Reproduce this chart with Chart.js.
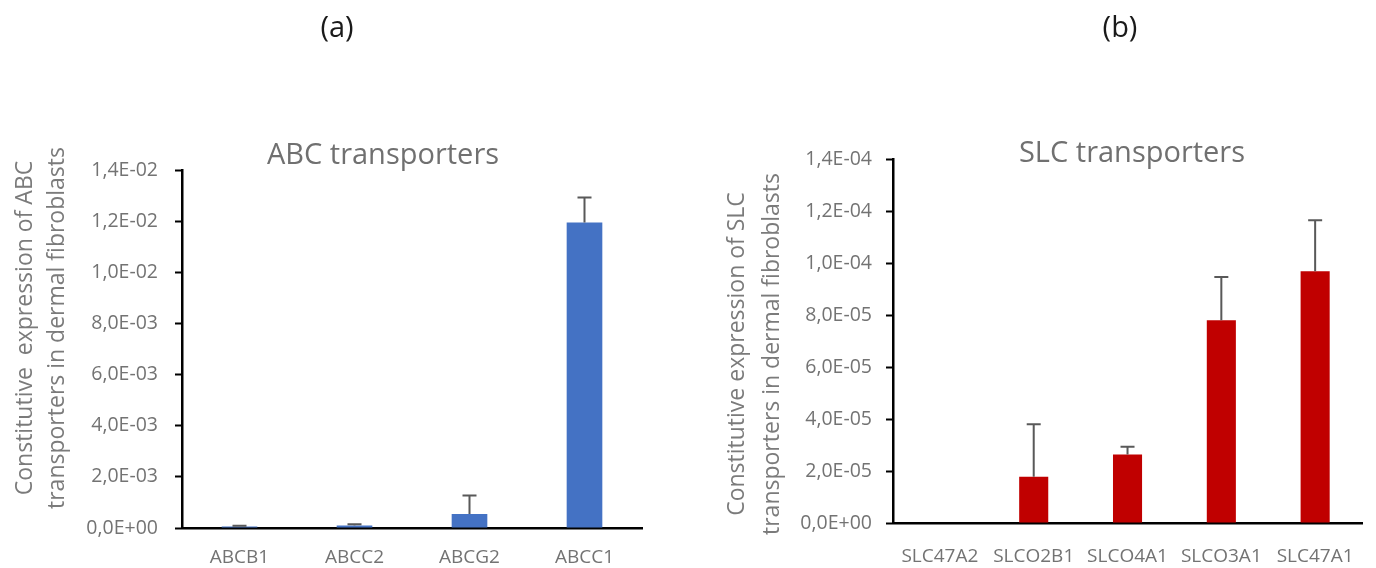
<!DOCTYPE html>
<html>
<head>
<meta charset="utf-8">
<script src="https://cdn.jsdelivr.net/npm/chart.js@4.4.1/dist/chart.umd.min.js"></script>
<style>
  html, body { margin: 0; padding: 0; background: #fff; }
  #wrap { position: relative; width: 1376px; height: 568px; overflow: hidden; }
  canvas { position: absolute; top: 0; }
  #abcChart { left: 0; }
  #slcChart { left: 688px; }
</style>
</head>
<body>
<div id="wrap">
  <canvas id="abcChart" width="688" height="568"></canvas>
  <canvas id="slcChart" width="688" height="568"></canvas>
</div>
<script>
// (a) ABC transporters
const abcGenes = ['ABCB1', 'ABCC2', 'ABCG2', 'ABCC1'];
const abcMeans = [0.00006, 0.0001, 0.00055, 0.01195];
const abcErrors = [0.00003, 0.00005, 0.00072, 0.00097];
const abcTicks = ['0,0E+00', '2,0E-03', '4,0E-03', '6,0E-03', '8,0E-03', '1,0E-02', '1,2E-02', '1,4E-02'];

// (b) SLC transporters
const slcGenes = ['SLC47A2', 'SLCO2B1', 'SLCO4A1', 'SLCO3A1', 'SLC47A1'];
const slcMeans = [0, 0.0000178, 0.0000263, 0.000078, 0.0000968];
const slcErrors = [0, 0.0000202, 0.000003, 0.0000166, 0.0000196];
const slcTicks = ['0,0E+00', '2,0E-05', '4,0E-05', '6,0E-05', '8,0E-05', '1,0E-04', '1,2E-04', '1,4E-04'];

const FONT = '"Open Sans", Lato, sans-serif';

// upward-only error bars with a cap, drawn on the bar's own scale
const errorBars = {
    id: 'errorBars',
    afterDatasetsDraw(chart) {
        const ctx = chart.ctx;
        const yScale = chart.scales.y;
        chart.data.datasets.forEach((ds, i) => {
            chart.getDatasetMeta(i).data.forEach((bar, j) => {
                const err = ds.errors[j];
                if (!err) return;
                const top = yScale.getPixelForValue(ds.data[j] + err);
                ctx.save();
                ctx.strokeStyle = '#595959';
                ctx.lineWidth = 2;
                ctx.beginPath();
                ctx.moveTo(bar.x, bar.y);
                ctx.lineTo(bar.x, top);
                ctx.moveTo(bar.x - 7, top);
                ctx.lineTo(bar.x + 7, top);
                ctx.stroke();
                ctx.restore();
            });
        });
    }
};

// panel letter, chart title and the two-line rotated y title
const panelText = {
    id: 'panelText',
    afterDraw(chart, args, opts) {
        const ctx = chart.ctx;
        ctx.save();
        ctx.textAlign = 'center';
        ctx.textBaseline = 'middle';
        ctx.fillStyle = '#1a1a1a';
        ctx.font = '29px ' + FONT;
        ctx.fillText(opts.letter, opts.letterX, 29);
        ctx.fillStyle = '#707070';
        ctx.font = '29px ' + FONT;
        ctx.fillText(opts.title, opts.titleX, opts.titleY);
        ctx.fillStyle = '#7b7b7b';
        ctx.font = '23px ' + FONT;
        opts.axisLines.forEach((line, k) => {
            ctx.save();
            ctx.translate(opts.axisX[k], opts.axisY);
            ctx.rotate(-Math.PI / 2);
            ctx.fillText(line, 0, 0);
            ctx.restore();
        });
        ctx.restore();
    }
};

function makeChart(id, genes, means, errors, ticks, color, box, text) {
    return new Chart(document.getElementById(id), {
        type: 'bar',
        data: {
            labels: genes,
            datasets: [{
                data: means,
                errors: errors,
                backgroundColor: color,
                borderWidth: 0,
                categoryPercentage: 1,
                barPercentage: box.barPct
            }]
        },
        options: {
            responsive: false,
            animation: false,
            devicePixelRatio: 1,
            layout: { padding: { top: box.top, right: box.right, left: 0, bottom: 0 } },
            plugins: {
                legend: { display: false },
                tooltip: { enabled: false },
                panelText: text
            },
            scales: {
                x: {
                    grid: { display: true, drawOnChartArea: false, drawTicks: false },
                    border: { color: '#000', width: 2.5 },
                    ticks: { color: '#737373', font: { family: FONT, size: 19 }, padding: box.xPad, maxRotation: 0, autoSkip: false },
                    afterFit: s => { s.height = box.xHeight; }
                },
                y: {
                    min: 0,
                    max: box.step * 7,
                    grid: { drawOnChartArea: false, drawTicks: true, tickLength: 7, tickColor: '#000', tickWidth: 2 },
                    border: { color: '#000', width: 2.5 },
                    ticks: {
                        stepSize: box.step,
                        color: '#737373',
                        font: { family: FONT, size: 19.5 },
                        padding: box.yPad,
                        callback: (v, i) => ticks[i]
                    },
                    afterFit: s => { s.width = box.yWidth; }
                }
            }
        },
        plugins: [errorBars, panelText]
    });
}

makeChart('abcChart', abcGenes, abcMeans, abcErrors, abcTicks, '#4472C4',
    { step: 0.002, top: 170, right: 46, yWidth: 182, xHeight: 40, xPad: 18, yPad: 17, barPct: 0.31 },
    { letter: '(a)', letterX: 337, title: 'ABC transporters', titleX: 383, titleY: 156,
      axisLines: ['Constitutive  expression of ABC', 'transporters in dermal fibroblasts'], axisX: [25, 57], axisY: 328 });

makeChart('slcChart', slcGenes, slcMeans, slcErrors, slcTicks, '#C00000',
    { step: 0.00002, top: 159, right: 4, yWidth: 205, xHeight: 45, xPad: 22, yPad: 14, barPct: 0.31 },
    { letter: '(b)', letterX: 432, title: 'SLC transporters', titleX: 444, titleY: 154,
      axisLines: ['Constitutive expression of SLC', 'transporters in dermal fibroblasts'], axisX: [49, 84], axisY: 354 });
</script>
</body>
</html>
